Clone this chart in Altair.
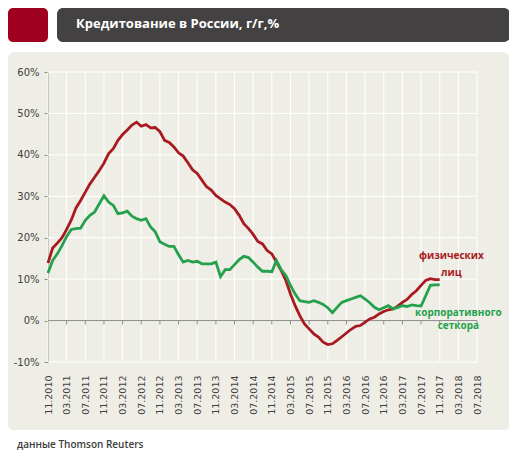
import altair as alt
import pandas as pd

# ---- data -------------------------------------------------------------
tick_labels = ["11.2010", "03.2011", "07.2011", "11.2011", "03.2012", "07.2012",
               "11.2012", "03.2013", "07.2013", "11.2013", "03.2014", "07.2014",
               "11.2014", "03.2015", "07.2015", "11.2015", "03.2016", "07.2016",
               "11.2016", "03.2017", "07.2017", "11.2017", "03.2018", "07.2018"]
tick_idx = [i * 4 for i in range(len(tick_labels))]   # months since 11.2010
y_ticks = [-10, 0, 10, 20, 30, 40, 50, 60]

# monthly y/y growth, 11.2010 .. 11.2017
households = [13.9, 17.5, 18.7, 20.0, 22.0, 24.3, 27.2, 29.0, 31.0, 33.0,
              34.6, 36.2, 38.0, 40.3, 41.5, 43.5, 44.9, 46.0, 47.2, 47.9,
              46.9, 47.3, 46.5, 46.6, 45.6, 43.5, 43.0, 41.9, 40.5, 39.7,
              38.1, 36.4, 35.5, 33.9, 32.3, 31.5, 30.2, 29.4, 28.6, 28.0,
              27.0, 25.4, 23.4, 22.2, 20.8, 19.1, 18.5, 16.9, 16.1, 14.1,
              12.1, 9.7, 6.4, 3.6, 1.2, -0.8, -2.0, -3.2, -4.0, -5.2,
              -5.8, -5.6, -4.8, -3.9, -3.0, -2.1, -1.4, -1.2, -0.4, 0.4,
              0.8, 1.6, 2.2, 2.6, 2.8, 3.5, 4.4, 5.1, 6.3, 7.2,
              8.5, 9.7, 10.1, 9.9, 9.9]
corporate = [11.5, 14.5, 16.1, 18.1, 20.3, 22.0, 22.2, 22.3, 24.2, 25.4,
             26.2, 28.2, 30.1, 28.6, 27.8, 25.8, 26.0, 26.4, 25.2, 24.6,
             24.2, 24.6, 22.6, 21.4, 19.0, 18.4, 17.9, 17.9, 15.9, 14.1,
             14.5, 14.1, 14.3, 13.7, 13.7, 13.7, 14.1, 10.6, 12.3, 12.3,
             13.5, 14.7, 15.5, 15.2, 14.1, 12.9, 11.9, 11.9, 11.8, 14.5,
             12.3, 10.9, 8.5, 6.4, 4.8, 4.6, 4.4, 4.8, 4.4, 3.9,
             3.1, 1.9, 3.2, 4.4, 4.8, 5.2, 5.6, 6.0, 5.2, 4.3,
             3.2, 2.6, 3.1, 3.6, 2.8, 3.2, 3.6, 3.4, 3.8, 3.6,
             3.5, 6.0, 8.5, 8.6, 8.6]

title_text = "Кредитование в России, г/г,%"
source_text = "данные Thomson Reuters"
red_label = ["физических", "лиц"]
red_label_pos = [(86.5, 15.5), (86.5, 11.6)]
green_label = ["корпоративного", "сеткора"]
green_label_pos = [(88.0, 1.9), (88.0, -1.4)]

# ---- styles -----------------------------------------------------------
RED = "#A81A20"
GREEN = "#25A04C"
PANEL = "#EFEEE6"
HEADER = "#434141"
SQUARE = "#A0001F"
AXIS_GRAY = "#8C8C8C"
LABEL = "#404040"
FONT = "DejaVu Sans"
W, H = 429, 290

df_red = pd.DataFrame({"m": list(range(len(households))), "v": households})
df_green = pd.DataFrame({"m": list(range(len(corporate))), "v": corporate})
one = pd.DataFrame({"a": [0]})

xs = alt.Scale(domain=[0, 92], nice=False, zero=False)
ys = alt.Scale(domain=[-10, 60], nice=False, zero=False)

label_expr = "[" + ",".join("'%s'" % t for t in tick_labels) + "][round(datum.value/4)]"
x_axis = alt.Axis(values=tick_idx, labelExpr=label_expr, labelAngle=-90,
                  orient="bottom", domain=False, ticks=False, grid=False,
                  labelPadding=13, title=None, labelFont=FONT, labelFontSize=9.5,
                  labelColor=LABEL)
y_axis = alt.Axis(values=y_ticks, labelExpr="datum.value + '%'", grid=False,
                  orient="left", domainColor=AXIS_GRAY, tickColor=AXIS_GRAY,
                  tickSize=4, labelPadding=5, title=None, labelFont=FONT,
                  labelFontSize=10, labelColor=LABEL)


def X(field):
    return alt.X(field, scale=xs, axis=x_axis)


def Y(field=None, datum=None):
    if datum is not None:
        return alt.Y(datum=datum, scale=ys, axis=y_axis)
    return alt.Y(field, scale=ys, axis=y_axis)


def box(color, x1, x2, y1, y2, radius=0):
    return alt.Chart(one).mark_rect(color=color, cornerRadius=radius).encode(
        x=alt.value(x1), x2=alt.value(x2), y=alt.value(y1), y2=alt.value(y2))


# page is panel-coloured; white bands above/below the panel, with rounded corners
white_top = box("white", -41, 463, -65, -13)
round_top = box(PANEL, -40, 462, -20, -6, 7)
white_bot = box("white", -41, 463, 354, 380)
round_bot = box(PANEL, -40, 462, 348, 358, 5)
header = box(HEADER, 9, 462, -64, -30, 6)
square = box(SQUARE, -40, 0, -64, -30, 5)

title = alt.Chart(one).mark_text(
    text=title_text, align="left", baseline="middle", font="Open Sans",
    fontSize=13, fontWeight="bold", color="white").encode(
    x=alt.value(28), y=alt.value(-48))
source = alt.Chart(one).mark_text(
    text=source_text, align="left", baseline="middle", font="Open Sans",
    fontSize=10, fontWeight=600, color="#3C3C3C").encode(
    x=alt.value(-31), y=alt.value(373))

ygrid = alt.Chart(pd.DataFrame({"v": y_ticks})).mark_rule(
    color="white", strokeWidth=1).encode(y=Y("v:Q"))
xgrid = alt.Chart(pd.DataFrame({"m": tick_idx})).mark_rule(
    color="white", strokeWidth=1).encode(x=X("m:Q"))

zero_line = alt.Chart(one).mark_rule(color=AXIS_GRAY, strokeWidth=1).encode(
    y=Y(datum=0))
zero_ticks = alt.Chart(pd.DataFrame({"m": tick_idx[1:]})).mark_rule(
    color=AXIS_GRAY, strokeWidth=1, y2Offset=4).encode(
    x=X("m:Q"), y=Y(datum=0), y2=alt.Y2(datum=0))

line_red = alt.Chart(df_red).mark_line(color=RED, strokeWidth=2.8).encode(
    x=X("m:Q"), y=Y("v:Q"))
line_green = alt.Chart(df_green).mark_line(color=GREEN, strokeWidth=2.8).encode(
    x=X("m:Q"), y=Y("v:Q"))

ann_red = alt.Chart(pd.DataFrame({
    "m": [p[0] for p in red_label_pos], "v": [p[1] for p in red_label_pos],
    "t": red_label})).mark_text(
    align="center", baseline="middle", font="Open Sans", fontSize=10,
    fontWeight="bold", color=RED).encode(x=X("m:Q"), y=Y("v:Q"), text="t:N")
ann_green = alt.Chart(pd.DataFrame({
    "m": [p[0] for p in green_label_pos], "v": [p[1] for p in green_label_pos],
    "t": green_label})).mark_text(
    align="center", baseline="middle", font="Open Sans", fontSize=10,
    fontWeight="bold", color=GREEN).encode(x=X("m:Q"), y=Y("v:Q"), text="t:N")

chart = alt.layer(
    white_top, round_top, white_bot, round_bot, header, square, title, source,
    ygrid, xgrid, zero_line, zero_ticks,
    line_red, line_green, ann_red, ann_green
).properties(
    width=W, height=H,
    padding={"left": 40, "top": 64, "right": 32, "bottom": 88},
    autosize=alt.AutoSizeParams(type="none"),
    background=PANEL,
).configure_view(stroke=None)

chart.save("out.html", embed_options={"renderer": "svg", "actions": False})
